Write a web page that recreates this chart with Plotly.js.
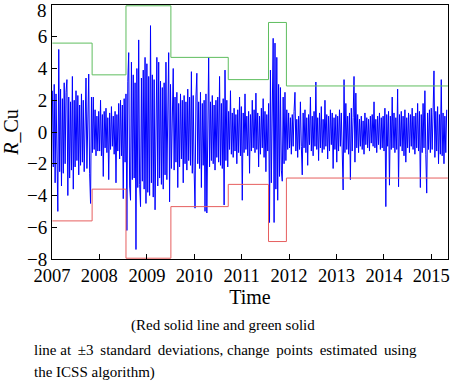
<!DOCTYPE html>
<html><head><meta charset="utf-8">
<script src="https://cdn.plot.ly/plotly-3.0.1.min.js"></script>
<style>html,body{margin:0;padding:0;background:#fff;}#chart{width:450px;height:384px;}</style>
</head><body><div id="chart"></div>
<script>
// Weekly return samples of R_Cu (first week starts 2007-01-04)
const startDate = '2007-01-04';
const stepDays = 7;
const r2007 = [2.6,-2.2,3.0,-3.2,2.4,-2.8,-5.0,5.2,-2.5,2.7,-3.4,2.1,-2.6,3.1,-2.0,2.5,3.3,-4.0,2.2,-2.9,1.9,-2.4,3.5,-3.6,2.0,-2.2,2.6,-1.8,2.3,-2.7,1.7,-2.1,2.4,-1.9,2.0,-2.5,1.8,3.4,-2.3,2.1,3.65,-2.6,-4.5,2.2,-1.3,2.2,-1.1,1.4,-1.5,1.0,-1.2,1.3];
const r2008 = [-1.2,2.0,-1.5,1.1,-2.8,1.3,-1.0,1.5,-1.3,0.9,-3.0,1.2,-1.1,1.6,-0.9,1.0,-1.4,1.3,-3.2,1.1,-1.2,1.8,-1.7,2.0,-1.5,1.7,-4.2,2.1,-1.9,2.4,-6.2,3.2,5.0,-3.4,-4.3,4.4,-3.0,3.6,-2.9,3.1,-7.4,4.0,-3.5,5.8,-3.3,-4.7,3.4,-3.1,3.9,-3.6,4.7,-4.5];
const r2009 = [4.3,-3.8,3.5,-4.0,6.7,-3.2,3.6,-4.1,3.3,-4.9,3.0,4.7,-3.4,4.4,-2.9,3.2,-3.3,2.8,-3.6,3.1,-2.7,4.4,-3.0,2.9,5.0,-4.4,3.0,-2.3,2.6,4.0,-2.4,2.2,-1.9,2.5,-3.5,1.8,-2.2,2.4,-1.7,2.0,-3.2,2.3,-2.0,1.9,-2.4,2.7,-1.8,2.2,-2.1,3.8,-2.6,2.3];
const r2010 = [-2.4,-4.8,2.2,3.7,-2.0,1.9,-2.3,2.5,-3.5,1.8,-2.1,2.0,-5.0,2.4,-5.1,2.1,4.7,-2.2,1.9,-1.8,2.3,-2.0,1.7,-2.4,2.0,-1.6,2.2,-1.9,3.5,-2.1,1.8,-2.3,2.1,-4.6,3.9,-1.8,2.0,-2.2,1.3,-1.1,2.6,-1.4,1.2,-1.6,1.5,-1.2,1.1,-2.0,1.4,-1.3,2.2,-1.5];
const r2011 = [1.6,-4.3,1.2,-1.3,2.4,-1.1,1.0,-1.5,1.3,-2.6,1.1,-1.2,2.0,-1.0,1.4,-1.3,2.45,-1.1,1.2,-2.2,1.0,-1.4,1.5,-1.0,2.1,-1.6,1.3,-2.5,1.1,-1.2,1.8,-5.7,3.9,-3.2,2.9,5.9,-5.7,5.6,-3.6,4.7,-4.3,3.0,-2.8,2.8,-2.4,-3.1,2.2,-2.0,2.5,-1.8,1.4,-1.1];
const r2012 = [1.2,-1.0,0.9,-1.4,1.1,-0.9,1.3,2.5,-1.2,0.8,-1.6,1.0,-1.1,1.9,-0.9,-2.7,1.2,-1.0,1.4,-1.3,0.9,-2.1,1.1,-0.8,2.2,-1.2,1.0,-1.5,1.3,-0.9,3.15,-1.1,0.9,-1.8,1.2,-1.0,1.6,-1.3,0.8,-1.1,2.0,-0.9,1.1,-1.7,1.0,-1.2,1.4,-0.8,1.2,-2.3,0.9,-1.1];
const r2013 = [1.1,-1.9,1.0,-1.2,1.4,-0.9,1.2,-1.0,-3.65,3.3,-1.3,1.8,-1.1,1.0,-1.4,1.2,-3.0,1.5,-1.2,0.9,3.5,-1.9,2.45,-1.0,1.1,-1.3,0.8,-0.9,1.0,-1.1,0.7,-1.4,1.2,-0.8,0.9,-1.0,0.8,-1.2,1.0,-0.7,1.1,-0.9,1.9,-1.0,0.8,-1.3,1.0,-0.8,1.2,-1.1,0.9,-1.0];
const r2014 = [1.0,-1.2,1.5,-4.7,1.1,-0.9,1.3,-3.35,1.0,-1.1,2.2,-1.0,1.2,-1.3,0.9,-1.1,2.7,-3.45,1.1,-0.9,1.3,-1.2,1.0,-1.5,1.4,-1.9,0.9,-1.0,1.2,-1.3,1.1,-0.9,1.5,-1.1,1.0,-1.4,1.2,-1.0,1.8,-1.2,1.3,-3.5,1.1,-1.3,1.8,-1.0,2.6,-1.4,-3.85,1.2,-1.1,1.4];
const r2015 = [-1.3,1.5,-1.1,1.2,3.85,-1.6,1.3,-1.2,1.6,-2.0,1.1,-1.4,3.3,-1.5,1.2,-2.0,1.0,-1.3,1.4];

// ICSS change points and the +3 standard deviation level of each regime
const changePoints = ['2007-01-04','2007-11-06','2008-07-24','2009-07-05','2010-09-20','2011-07-27','2011-12-12','2015-05-09'];
const upperBand = [5.6,3.6,7.95,4.7,3.3,6.9,2.9];
const lowerBand = [-5.6,-3.6,-7.95,-4.7,-3.3,-6.9,-2.9];

const yTickVals = [-8,-6,-4,-2,0,2,4,6,8];
const yearTicks = ['2007','2008','2009','2010','2011','2012','2013','2014','2015'];

const series = [].concat(r2007,r2008,r2009,r2010,r2011,r2012,r2013,r2014,r2015);
const t0 = Date.parse(startDate + 'T00:00:00Z');
const dates = series.map((_, i) => new Date(t0 + i*stepDays*86400000).toISOString().slice(0,10));
const upY = upperBand.concat([upperBand[upperBand.length-1]]);
const loY = lowerBand.concat([lowerBand[lowerBand.length-1]]);
const yMax = yTickVals[yTickVals.length-1];
// the top label would overflow the figure edge, so it is drawn as an annotation
const yTickText = yTickVals.map(v => v === yMax ? '' : (v < 0 ? '\u2212' + Math.abs(v) : String(v)));

const serif = '"Liberation Serif", "Times New Roman", serif';
const ts = '\u2009';
const words = ['line','at','±3','standard','deviations,','change','points','estimated','using'];
const line2 = words.map((w, i) => i === 0 ? w : ((i % 4 === 1) ? ' ' : ' ' + ts) + w).join('');

const traces = [
  {x: dates, y: series, type:'scatter', mode:'lines', line:{color:'#0000ff', width:1}, hoverinfo:'skip'},
  {x: changePoints, y: upY, type:'scatter', mode:'lines', line:{color:'rgb(95,190,95)', width:1, shape:'hv'}, hoverinfo:'skip'},
  {x: changePoints, y: loY, type:'scatter', mode:'lines', line:{color:'rgb(230,95,95)', width:1, shape:'hv'}, hoverinfo:'skip'}
];

const layout = {
  width:450, height:384,
  margin:{l:52, r:2, t:5, b:125},
  paper_bgcolor:'#fff', plot_bgcolor:'#fff',
  showlegend:false,
  font:{family:serif, color:'#000', size:19},
  xaxis:{
    type:'date', range:['2007-01-01','2015-05-10'],
    tickvals: yearTicks.map(y => y + '-01-01'), ticktext: yearTicks,
    ticks:'inside', ticklen:5, tickcolor:'#000',
    showline:true, mirror:true, linecolor:'#000', linewidth:1,
    showgrid:false, zeroline:false,
    tickfont:{family:serif, size:18.5, color:'#000'},
    title:{text:'Time', font:{family:serif, size:20, color:'#000'}, standoff:2}
  },
  yaxis:{
    range:[-8,8], tickvals: yTickVals, ticktext: yTickText,
    ticks:'inside', ticklen:5, tickcolor:'#000',
    showline:true, mirror:true, linecolor:'#000', linewidth:1,
    showgrid:false, zeroline:false,
    tickfont:{family:serif, size:19, color:'#000'},
    title:{text:'<i>R</i>_Cu', font:{family:serif, size:20, color:'#000'}, standoff:6}
  },
  annotations:[
    {text:String(yMax), xref:'paper', yref:'y', x:0, y:yMax, xanchor:'right', yanchor:'top', xshift:-4, yshift:6, borderpad:0, showarrow:false, font:{family:serif, size:19, color:'#000'}},
    {text:'(Red solid line and green solid', xref:'paper', yref:'paper', x:0.431, y:-0.26, xanchor:'center', yanchor:'middle', showarrow:false, font:{family:serif, size:15, color:'#000'}},
    {text:line2, xref:'paper', yref:'paper', x:-0.0505, y:-0.36, xanchor:'left', yanchor:'middle', showarrow:false, font:{family:serif, size:15, color:'#000'}},
    {text:'the ICSS algorithm)', xref:'paper', yref:'paper', x:-0.0505, y:-0.447, xanchor:'left', yanchor:'middle', showarrow:false, font:{family:serif, size:15, color:'#000'}}
  ]
};
Plotly.newPlot('chart', traces, layout, {displayModeBar:false, staticPlot:true});
</script>
</body></html>
